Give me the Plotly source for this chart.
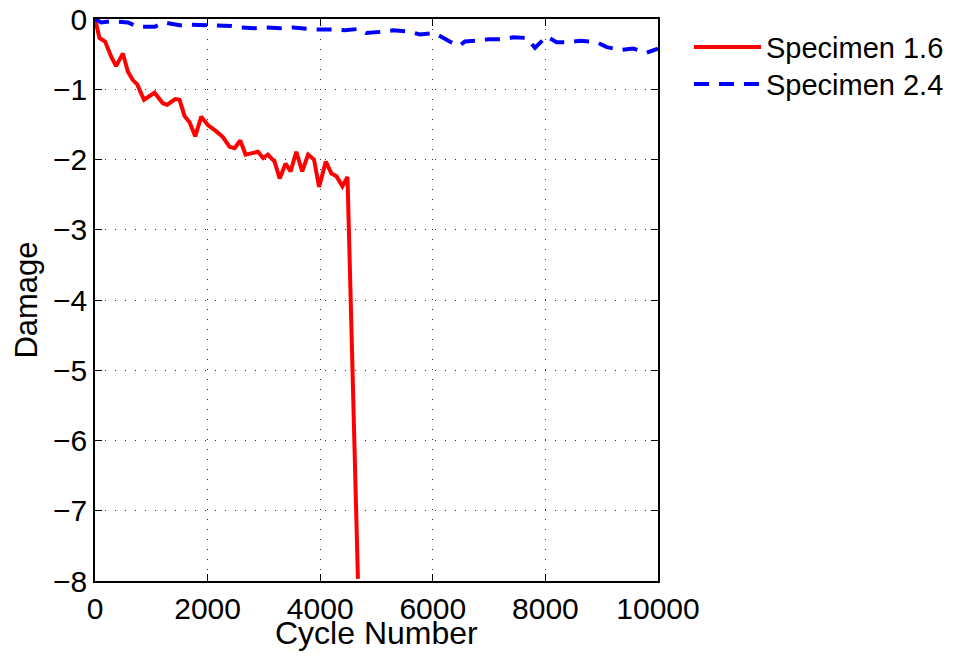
import plotly.graph_objects as go

# Specimen 1.6 (red, solid)
cyc_16 = [0, 80, 180, 290, 375, 495, 585, 672, 750, 870, 1058, 1205, 1283, 1425, 1502,
          1590, 1680, 1780, 1888, 2005, 2155, 2272, 2390, 2480, 2580, 2675, 2895, 2985,
          3070, 3190, 3280, 3385, 3475, 3575, 3680, 3785, 3890, 3980, 4100, 4200, 4290,
          4395, 4485, 4670]
dmg_16 = [0, -0.27, -0.32, -0.54, -0.67, -0.49, -0.75, -0.87, -0.93, -1.15, -1.05, -1.20,
          -1.22, -1.14, -1.15, -1.38, -1.47, -1.67, -1.39, -1.51, -1.60, -1.68, -1.82,
          -1.84, -1.73, -1.93, -1.89, -1.98, -1.93, -2.03, -2.27, -2.06, -2.17, -1.89,
          -2.17, -1.93, -2.00, -2.39, -2.03, -2.20, -2.24, -2.38, -2.25, -7.97]

# Specimen 2.4 (blue, dashed)
cyc_24 = [0, 110, 290, 585, 760, 1058, 1235, 1500, 1710, 1975, 2125, 2420, 2570, 2835,
          3045, 3310, 3515, 3785, 3900, 4260, 4435, 4700, 4820, 5115, 5295, 5590, 5770,
          6035, 6300, 6480, 6570, 6775, 6985, 7250, 7430, 7665, 7815, 8020, 8200, 8435,
          8615, 8910, 9090, 9325, 9560, 9800, 10000]
dmg_24 = [0, -0.05, -0.03, -0.05, -0.11, -0.11, -0.05, -0.09, -0.08, -0.09, -0.09, -0.10,
          -0.12, -0.13, -0.12, -0.13, -0.12, -0.14, -0.15, -0.15, -0.16, -0.14, -0.20,
          -0.18, -0.16, -0.18, -0.22, -0.20, -0.32, -0.38, -0.32, -0.31, -0.29, -0.29,
          -0.26, -0.27, -0.41, -0.25, -0.33, -0.33, -0.31, -0.33, -0.40, -0.44, -0.42,
          -0.48, -0.42]

x_ticks = [0, 2000, 4000, 6000, 8000, 10000]
y_ticks = [-8, -7, -6, -5, -4, -3, -2, -1, 0]
x_title = "Cycle Number"
y_title = "Damage"

FONT = "Liberation Sans, Arial, Helvetica, sans-serif"

fig = go.Figure()
fig.add_trace(go.Scatter(x=cyc_16, y=dmg_16, mode="lines", name="Specimen 1.6",
                         line=dict(color="#ff0000", width=4), legend="legend"))
fig.add_trace(go.Scatter(x=cyc_24, y=dmg_24, mode="lines", name="Specimen 2.4",
                         line=dict(color="#0000ff", width=4, dash="15px,10px"),
                         legend="legend2"))

axis_common = dict(showline=True, mirror="ticks", linecolor="black", linewidth=1.5,
                   ticks="inside", ticklen=7, tickcolor="black", tickwidth=1,
                   showgrid=True, gridcolor="#333333", gridwidth=1, griddash="1px,9px",
                   zeroline=False, automargin=False,
                   tickfont=dict(size=30, color="black", family=FONT))

fig.update_xaxes(range=[0, 10000], tickvals=x_ticks, ticktext=[str(v) for v in x_ticks],
                 **axis_common)
fig.update_yaxes(range=[-8, 0], tickvals=y_ticks,
                 ticktext=[("\u2212" + str(-v)) if v < 0 else str(v) for v in y_ticks],
                 title=dict(text=y_title, font=dict(size=31, color="black", family=FONT),
                            standoff=6),
                 **axis_common)

fig.add_annotation(text=x_title, xref="paper", yref="paper", x=0.5, y=-0.093,
                   xanchor="center", yanchor="middle", showarrow=False,
                   font=dict(size=32, color="black", family=FONT), borderpad=0)

leg_common = dict(x=1.055, xanchor="left", yanchor="middle",
                  font=dict(size=29, color="black", family=FONT),
                  itemwidth=67, bgcolor="rgba(0,0,0,0)")

fig.update_layout(
    width=966, height=656,
    margin=dict(l=95, r=308, t=19, b=75, pad=0, autoexpand=False),
    paper_bgcolor="white", plot_bgcolor="white",
    font=dict(family=FONT, color="black"),
    showlegend=True,
    legend=dict(y=0.950, **leg_common),
    legend2=dict(y=0.884, **leg_common),
)

fig.write_html("out.html")
